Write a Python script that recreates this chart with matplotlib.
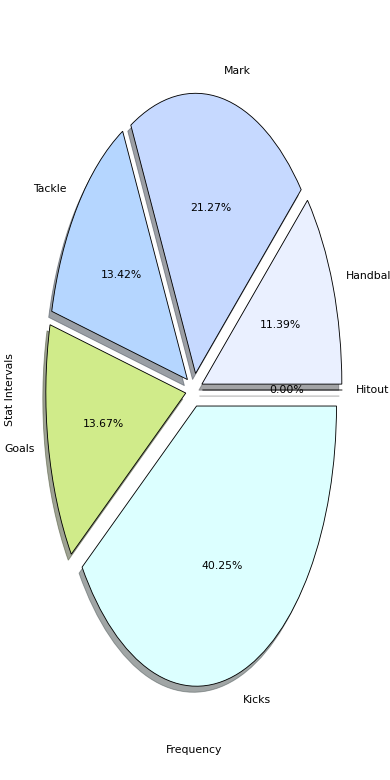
import matplotlib
matplotlib.use("Agg")
import matplotlib.pyplot as plt

categories = ["Hitout", "Handball", "Mark", "Tackle", "Goals", "Kicks"]
values = [0.00, 11.39, 21.27, 13.42, 13.67, 40.25]
colors = ["#d9d9d9", "#eaf0ff", "#c6d9ff", "#b5d6ff", "#d0eb8a", "#dcffff"]
explode = [0.06] * len(values)

fig = plt.figure(figsize=(5.0, 10.0), dpi=78)
ax = fig.add_axes([0.049, 0.051, 0.897, 0.898])
ax.pie(values, labels=categories, colors=colors, explode=explode,
       autopct="%1.2f%%", shadow=True, startangle=0,
       wedgeprops={"edgecolor": "black", "linewidth": 0.8})
ax.set_aspect("auto")
ax.set_xlim(-1.25, 1.25)
ax.set_ylim(-1.25, 1.25)
ax.set_xlabel("Frequency")
ax.set_ylabel("Stat Intervals")
fig.savefig("out.png", dpi=78)
